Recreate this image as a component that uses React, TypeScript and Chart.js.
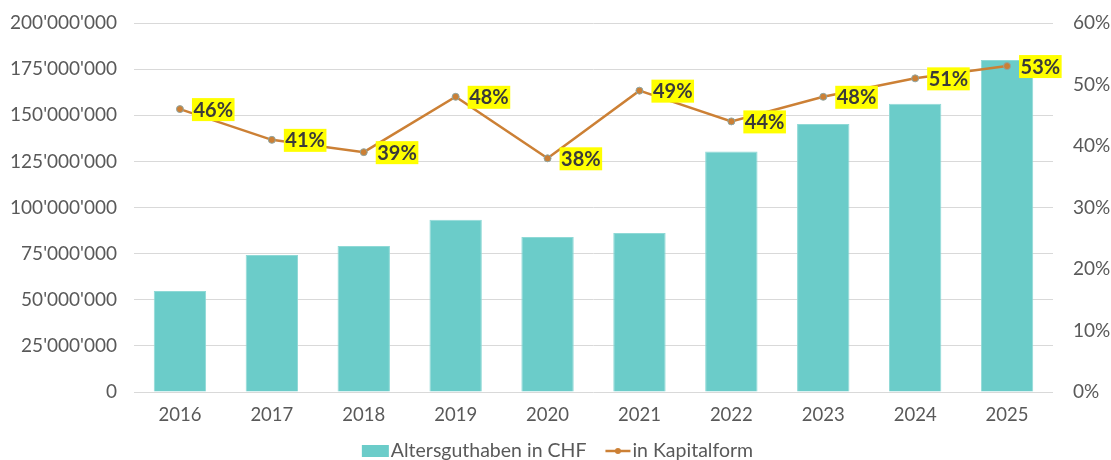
import React, { useEffect, useRef } from "react";
import { Chart, registerables } from "chart.js";

Chart.register(...registerables);

const years = ["2016", "2017", "2018", "2019", "2020", "2021", "2022", "2023", "2024", "2025"];
const altersguthaben = [54800000, 74300000, 79200000, 93300000, 84000000, 86200000, 130300000, 145300000, 156200000, 180000000];
const kapitalform = [0.46, 0.41, 0.39, 0.48, 0.38, 0.49, 0.44, 0.48, 0.51, 0.53];
const barLabel = "Altersguthaben in CHF";
const lineLabel = "in Kapitalform";

const FONT = "Lato, 'Open Sans', sans-serif";
const TEXT = "#595959";
const BAR = "#6BCCC9";
const LINE = "#CC8035";

const fmtCHF = (v: number) => {
  const s = Math.round(v).toString();
  return s.replace(/\B(?=(\d{3})+(?!\d))/g, "'");
};

const labelPlugin = {
  id: "pctLabels",
  afterDatasetsDraw(chart: any) {
    const ctx = chart.ctx;
    const meta = chart.getDatasetMeta(1);
    ctx.save();
    ctx.font = `bold 20px ${FONT}`;
    ctx.textBaseline = "middle";
    ctx.textAlign = "left";
    meta.data.forEach((pt: any, i: number) => {
      const txt = Math.round(kapitalform[i] * 100) + "%";
      const w = ctx.measureText(txt).width;
      const x = pt.x + 12;
      const y = pt.y;
      ctx.fillStyle = "#FFFF00";
      ctx.fillRect(x, y - 11, w + 3, 23);
      ctx.fillStyle = "#3A3A3A";
      ctx.fillText(txt, x + 1.5, y + 1);
    });
    ctx.restore();
  },
};

const legendPlugin = {
  id: "customLegend",
  afterDraw(chart: any) {
    const ctx = chart.ctx;
    ctx.save();
    ctx.font = `19.5px ${FONT}`;
    ctx.textBaseline = "middle";
    ctx.textAlign = "left";
    const w1 = ctx.measureText(barLabel).width;
    const w2 = ctx.measureText(lineLabel).width;
    const boxW = 27;
    const lineW = 25;
    const gapT = 2;
    const gapItems = 19;
    const total = boxW + gapT + w1 + gapItems + lineW + gapT + w2;
    let x = chart.width / 2 - total / 2 + 2;
    const y = 451;
    ctx.fillStyle = BAR;
    ctx.fillRect(x, y - 6, boxW, 12);
    x += boxW + gapT;
    ctx.fillStyle = TEXT;
    ctx.fillText(barLabel, x, y);
    x += w1 + gapItems;
    ctx.strokeStyle = LINE;
    ctx.lineWidth = 2.5;
    ctx.beginPath();
    ctx.moveTo(x, y);
    ctx.lineTo(x + lineW, y);
    ctx.stroke();
    ctx.beginPath();
    ctx.arc(x + lineW / 2, y, 3, 0, Math.PI * 2);
    ctx.fillStyle = LINE;
    ctx.fill();
    x += lineW + gapT;
    ctx.fillStyle = TEXT;
    ctx.fillText(lineLabel, x, y);
    ctx.restore();
  },
};

export default function App() {
  const ref = useRef<HTMLCanvasElement | null>(null);
  useEffect(() => {
    document.body.style.margin = "0";
    const canvas = ref.current!;
    const chart = new Chart(canvas, {
      type: "bar",
      data: {
        labels: years,
        datasets: [
          {
            type: "bar",
            label: barLabel,
            data: altersguthaben,
            backgroundColor: BAR,
            borderColor: "#8FD9D6",
            borderWidth: 1,
            barPercentage: 0.57,
            categoryPercentage: 1,
            yAxisID: "y",
            order: 2,
          },
          {
            type: "line",
            label: lineLabel,
            data: kapitalform,
            borderColor: LINE,
            borderWidth: 2.5,
            pointRadius: 3.5,
            pointBackgroundColor: LINE,
            pointBorderColor: "#8FA6A3",
            pointBorderWidth: 1,
            tension: 0,
            yAxisID: "y1",
            order: 1,
          } as any,
        ],
      },
      options: {
        animation: false,
        responsive: false,
        maintainAspectRatio: false,
        layout: { padding: { top: 23, bottom: 0, left: 0, right: 0 } },
        plugins: {
          legend: { display: false },
          tooltip: { enabled: false },
        },
        scales: {
          x: {
            grid: { display: false, drawTicks: false },
            border: { display: false },
            ticks: { color: TEXT, font: { family: FONT, size: 18.5 }, padding: 12 },
            afterFit: (s: any) => {
              s.height = 68;
              s.paddingLeft = 0;
              s.paddingRight = 0;
            },
          },
          y: {
            position: "left",
            min: 0,
            max: 200000000,
            grid: { color: "#D9D9D9", drawTicks: false, lineWidth: 1 },
            border: { display: false },
            ticks: {
              stepSize: 25000000,
              color: TEXT,
              font: { family: FONT, size: 19 },
              padding: 17,
              callback: (v: any) => fmtCHF(Number(v)),
            },
            afterFit: (s: any) => {
              s.width = 134;
              s.paddingTop = 0;
              s.paddingBottom = 0;
            },
          },
          y1: {
            position: "right",
            min: 0,
            max: 0.6,
            grid: { display: false, drawTicks: false },
            border: { display: false },
            ticks: {
              stepSize: 0.1,
              color: TEXT,
              font: { family: FONT, size: 19 },
              padding: 20,
              callback: (v: any) => Math.round(Number(v) * 100) + "%",
            },
            afterFit: (s: any) => {
              s.width = 58;
              s.paddingTop = 0;
              s.paddingBottom = 0;
            },
          },
        },
      },
      plugins: [labelPlugin, legendPlugin],
    } as any);
    return () => chart.destroy();
  }, []);
  return <canvas ref={ref} width={1111} height={460} style={{ display: "block" }} />;
}
